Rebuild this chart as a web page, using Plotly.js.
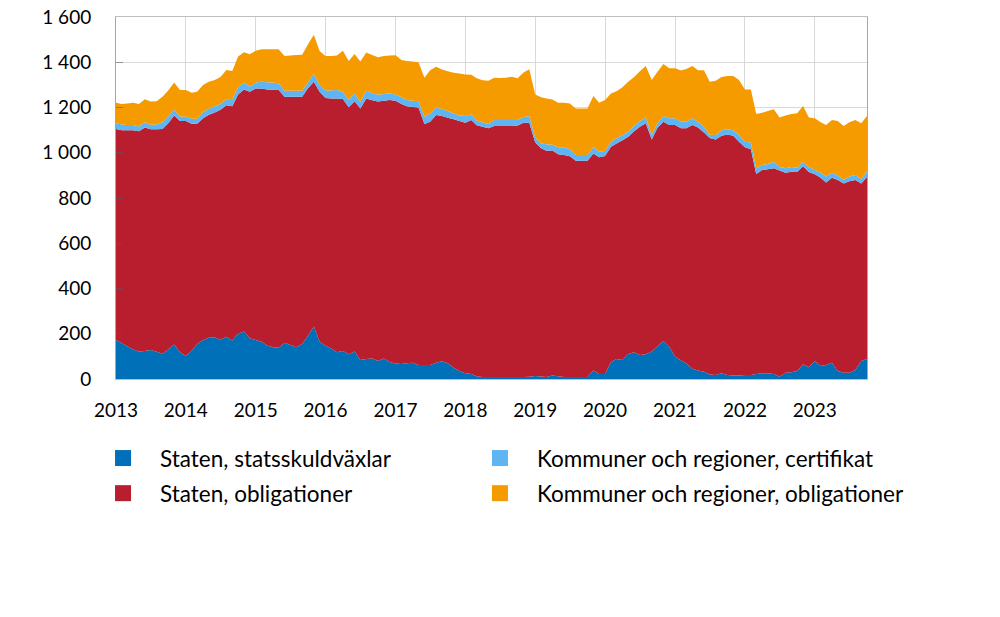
<!DOCTYPE html>
<html>
<head>
<meta charset="utf-8">
<script src="https://cdn.plot.ly/plotly-3.0.1.min.js"></script>
<style>html,body{margin:0;padding:0;background:#fff;}#chart{width:1000px;height:617px;}</style>
</head>
<body>
<div id="chart"></div>
<script>
// Monthly data, January 2013 – October 2023 (billion SEK)
const startYear = 2013, startMonth = 1, nMonths = 130;
const months = [];
for (let i = 0; i < nMonths; i++) {
  const y = startYear + Math.floor((startMonth - 1 + i) / 12);
  const m = ((startMonth - 1 + i) % 12) + 1;
  months.push(y + '-' + String(m).padStart(2, '0') + '-01');
}

const statsskuldvaxlar = [
  172,158,145,130,122,124,128,120,112,130,153,118,
  103,125,155,172,182,183,175,187,170,200,210,180,
  172,165,148,140,138,160,150,140,155,190,232,165,
  147,135,118,124,109,121,84,88,91,80,91,75,
  69,66,70,72,62,62,62,72,78,70,50,35,
  25,22,12,9,9,9,9,9,9,9,9,10,
  13,11,9,16,12,9,9,9,9,9,38,22,
  22,75,88,84,110,118,106,109,121,145,168,143,
  100,82,68,45,38,32,20,18,25,18,15,16,
  18,18,22,25,25,22,10,28,30,35,65,52,
  80,58,62,72,35,28,28,40,80,88
];
const statenObligationer = [
  933,942,955,970,973,988,976,984,993,1000,1012,1022,
  1037,1003,973,980,986,995,1015,1023,1036,1058,1070,1090,
  1112,1119,1132,1138,1139,1088,1098,1108,1093,1095,1082,1105,
  1095,1105,1122,1114,1092,1107,1112,1152,1141,1146,1139,1158,
  1161,1149,1136,1130,1138,1065,1075,1095,1084,1085,1098,1105,
  1108,1123,1110,1106,1099,1109,1109,1109,1109,1111,1124,1123,
  1032,1009,1000,994,981,981,976,956,956,956,959,958,
  964,952,953,971,961,977,1009,1021,938,965,969,980,
  1023,1026,1040,1078,1074,1058,1045,1041,1050,1063,1060,1033,
  1006,997,884,899,902,910,911,884,886,880,875,863,
  825,832,807,817,845,836,846,840,784,805
];
const kommunerCertifikat = [
  25,25,23,23,21,23,20,21,30,30,25,20,
  20,22,22,28,27,27,25,26,32,32,30,22,
  26,30,32,32,30,26,26,26,26,25,35,29,
  32,36,37,32,32,34,28,34,32,30,30,29,
  28,30,27,28,28,32,37,34,30,30,26,25,
  29,25,21,20,19,27,27,27,27,25,25,29,
  23,21,29,25,31,34,30,25,25,25,27,25,
  22,22,23,23,22,23,25,26,19,20,25,29,
  29,29,29,29,25,23,15,19,25,23,25,31,
  25,30,25,22,23,28,16,19,21,19,20,22,
  20,22,26,23,20,16,21,22,19,25
];
const kommunerObligationer = [
  91,90,95,98,99,101,102,103,113,115,120,117,
  117,115,120,119,119,117,120,130,123,135,134,143,
  141,143,145,147,150,154,156,158,159,168,172,151,
  154,152,153,181,173,174,179,169,168,166,168,168,
  173,165,172,173,172,173,191,179,176,175,180,185,
  184,175,186,185,191,187,185,187,191,184,197,207,
  190,204,202,200,197,197,203,206,206,206,227,216,
  225,213,208,212,221,217,220,227,243,228,230,221,
  221,226,233,231,228,252,234,240,235,235,239,241,
  231,235,240,231,235,232,219,234,234,241,247,219,
  227,223,228,233,240,238,240,243,247,244
];

const seriesNames = [
  'Staten, statsskuldväxlar',
  'Staten, obligationer',
  'Kommuner och regioner, certifikat',
  'Kommuner och regioner, obligationer'
];
const seriesColors = ['#0070b8', '#b81e2d', '#5eb5f2', '#f59b00'];
const seriesValues = [statsskuldvaxlar, statenObligationer, kommunerCertifikat, kommunerObligationer];
const legendIds = ['legend', 'legend2', 'legend3', 'legend4'];

const FONT = 'Lato, "Open Sans", sans-serif';

const traces = [];
seriesValues.forEach((vals, i) => {
  traces.push({
    type: 'scatter', x: months, y: vals, name: seriesNames[i],
    stackgroup: 'one', mode: 'none', fillcolor: seriesColors[i],
    line: {width: 0, shape: 'linear'}, showlegend: false, hoverinfo: 'x+y+name'
  });
});
// legend entries (one legend box per entry, laid out in a 2×2 grid)
seriesValues.forEach((vals, i) => {
  traces.push({
    type: 'scatter', x: [null], y: [null], name: seriesNames[i], mode: 'markers',
    marker: {symbol: 'square', size: 17, color: seriesColors[i]},
    showlegend: true, legend: legendIds[i]
  });
});

const legendBase = {
  orientation: 'h', xanchor: 'left', yanchor: 'top',
  font: {family: FONT, size: 22.5, color: '#000000'},
  itemwidth: 64, traceorder: 'normal', bgcolor: 'rgba(0,0,0,0)'
};
const colX = [-0.0399, 0.462];
const rowY = [-0.160, -0.257];

const layout = {
  width: 1000, height: 617,
  margin: {l: 116, r: 133, t: 17, b: 238, pad: 0},
  paper_bgcolor: '#ffffff', plot_bgcolor: '#ffffff',
  separators: ', ',
  font: {family: FONT, size: 19, color: '#000000'},
  showlegend: true,
  legend:  Object.assign({}, legendBase, {x: colX[0], y: rowY[0]}),
  legend2: Object.assign({}, legendBase, {x: colX[0], y: rowY[1]}),
  legend3: Object.assign({}, legendBase, {x: colX[1], y: rowY[0]}),
  legend4: Object.assign({}, legendBase, {x: colX[1], y: rowY[1]}),
  xaxis: {
    type: 'date', range: ['2013-01-01', '2023-10-01'],
    tick0: '2013-01-01', dtick: 'M12', tickformat: '%Y',
    showgrid: true, gridcolor: '#d9d9d9', gridwidth: 1,
    showline: true, linecolor: '#bfbfbf', linewidth: 1, mirror: true,
    ticks: '', zeroline: false, ticklabelstandoff: 14,
    tickfont: {family: FONT, size: 19, color: '#000000'}
  },
  yaxis: {
    range: [0, 1600], dtick: 200, tick0: 0, tickformat: ',d',
    showgrid: true, gridcolor: '#d9d9d9', gridwidth: 1,
    showline: true, linecolor: '#a6a6a6', linewidth: 1, mirror: true,
    ticks: 'inside', ticklen: 7, tickcolor: 'rgba(90,90,90,0.55)', tickwidth: 1,
    zeroline: false, ticklabelstandoff: 20,
    tickfont: {family: FONT, size: 19, color: '#000000'}
  }
};

Plotly.newPlot('chart', traces, layout, {displayModeBar: false, staticPlot: true});
</script>
</body>
</html>
